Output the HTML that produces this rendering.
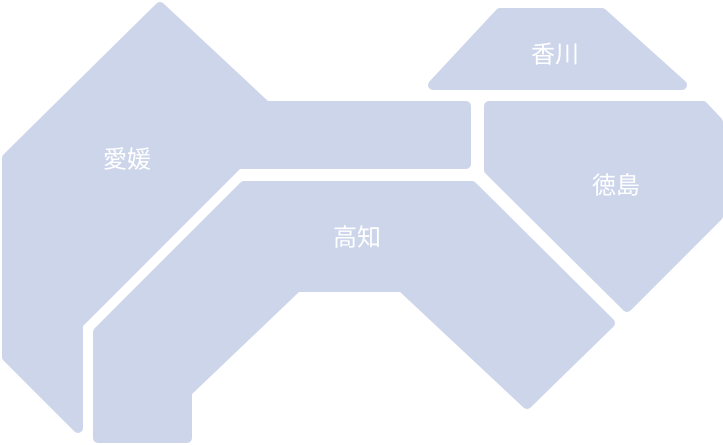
<!DOCTYPE html>
<html><head><meta charset="utf-8"><style>
html,body{margin:0;padding:0;background:#fff;}
svg{display:block}
text{font-family:"Liberation Sans","Noto Sans CJK JP",sans-serif;font-size:24px;fill:#fff;text-anchor:middle;dominant-baseline:central}
</style></head><body>
<svg width="723" height="445" viewBox="0 0 723 445">
<g fill="#cdd5eb" stroke="#cdd5eb" stroke-width="10" stroke-linejoin="round">
<polygon points="7,158 160,7 266,106 466,106 466,164 238,164 78,324 78,428 7,357"/>
<polygon points="98,332 244,186 472,186 610,323 527,404 402,287 297,287 187,392 187,438 98,438"/>
<polygon points="489,106 703,106 718,122 718,216 627,307 489,170"/>
<polygon points="433,85 500,13 602,13 682,85"/>
</g>
<text x="127" y="160">愛媛</text>
<text x="357" y="238">高知</text>
<text x="616" y="186">徳島</text>
<text x="555" y="55">香川</text>
</svg>
</body></html>
